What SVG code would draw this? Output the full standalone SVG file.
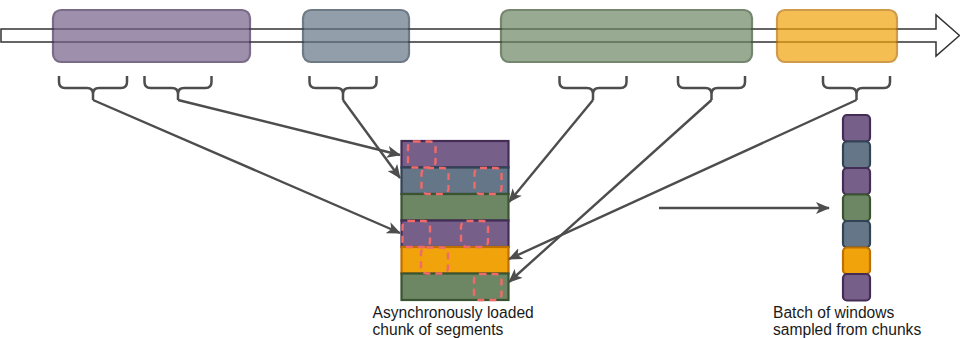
<svg xmlns="http://www.w3.org/2000/svg" width="960" height="338" viewBox="0 0 960 338">
  <style>
    .seg { opacity: 0.7; stroke-width: 2.2; }
    .brace { fill: none; stroke: #4d4d4d; stroke-width: 2.5; stroke-linejoin: round; }
    .conn { fill: none; stroke: #4d4d4d; stroke-width: 2.4; }
    .row { stroke-width: 2.2; }
    .win { fill: none; stroke: #f06a6a; stroke-width: 2.4; stroke-dasharray: 7 5; }
    .cell { stroke-width: 2.2; }
    .purple { fill: #76608a; stroke: #432d57; }
    .slate { fill: #647687; stroke: #314354; }
    .green { fill: #6d8764; stroke: #3a5431; }
    .orange { fill: #f0a30a; stroke: #bd7000; }
    .label { font-family: "Liberation Sans", Arial, sans-serif; font-size: 15.6px; fill: #1a1a1a; }
  </style>
  <defs>
    <marker id="arrow" viewBox="0 0 14 12" refX="13" refY="6" markerWidth="14" markerHeight="12" markerUnits="userSpaceOnUse" orient="auto">
      <path d="M0,0 L14,6 L0,12 L3.5,6 Z" fill="#4d4d4d"/>
    </marker>
  </defs>

  <!-- time axis -->
  <g id="timeline">
    <path d="M1,29 H936 V15 L959.5,35.5 L936,56 V42 H1 Z" fill="#ffffff" stroke="#333333" stroke-width="1.5" stroke-linejoin="miter"/>
  </g>

  <!-- recorded segments along the axis -->
  <g id="segment-1"><rect class="seg purple" x="53" y="10" width="197" height="52" rx="8"/></g>
  <g id="segment-2"><rect class="seg slate" x="303" y="10" width="106" height="52" rx="8"/></g>
  <g id="segment-3"><rect class="seg green" x="501" y="10" width="251" height="52" rx="8"/></g>
  <g id="segment-4"><rect class="seg orange" x="777" y="10" width="120" height="52" rx="8"/></g>

  <!-- braces marking sampled windows -->
  <g id="brace-1"><path class="brace" d="M59,76 V82 Q59,88 65,88 H87 Q93,88 93,94 V100 M93,94 Q93,88 99,88 H121 Q127,88 127,82 V76"/></g>
  <g id="brace-2"><path class="brace" d="M144.5,76 V82 Q144.5,88 150.5,88 H172 Q178,88 178,94 V100 M178,94 Q178,88 184,88 H205.5 Q211.5,88 211.5,82 V76"/></g>
  <g id="brace-3"><path class="brace" d="M309.5,76 V82 Q309.5,88 315.5,88 H337 Q343,88 343,94 V100 M343,94 Q343,88 349,88 H370.5 Q376.5,88 376.5,82 V76"/></g>
  <g id="brace-4"><path class="brace" d="M559.5,76 V82 Q559.5,88 565.5,88 H587 Q593,88 593,94 V100 M593,94 Q593,88 599,88 H620.5 Q626.5,88 626.5,82 V76"/></g>
  <g id="brace-5"><path class="brace" d="M678,76 V82 Q678,88 684,88 H705.5 Q711.5,88 711.5,94 V100 M711.5,94 Q711.5,88 717.5,88 H739 Q745,88 745,82 V76"/></g>
  <g id="brace-6"><path class="brace" d="M823,76 V82 Q823,88 829,88 H850.5 Q856.5,88 856.5,94 V100 M856.5,94 Q856.5,88 862.5,88 H884 Q890,88 890,82 V76"/></g>

  <!-- loaded chunk of segments -->
  <g id="chunk">
    <rect class="row purple" x="401.5" y="141" width="107" height="26.5"/>
    <rect class="row slate" x="401.5" y="167.5" width="107" height="26.5"/>
    <rect class="row green" x="401.5" y="194" width="107" height="26.5"/>
    <rect class="row purple" x="401.5" y="220.5" width="107" height="26.5"/>
    <rect class="row orange" x="401.5" y="247" width="107" height="26.5"/>
    <rect class="row green" x="401.5" y="273.5" width="107" height="26.5"/>
    <rect class="win" x="408" y="141.5" width="27.5" height="26" rx="5.5"/>
    <rect class="win" x="421.5" y="168" width="27" height="26" rx="5.5"/>
    <rect class="win" x="474.5" y="168" width="27" height="26" rx="5.5"/>
    <rect class="win" x="402.5" y="221" width="27.5" height="26" rx="5.5"/>
    <rect class="win" x="461" y="221" width="27" height="26" rx="5.5"/>
    <rect class="win" x="421" y="247.5" width="27" height="26" rx="5.5"/>
    <rect class="win" x="474" y="274" width="27.5" height="26" rx="5.5"/>
  </g>

  <!-- sampled batch -->
  <g id="batch">
    <rect class="cell purple" x="843" y="115" width="27" height="26.5" rx="4"/>
    <rect class="cell slate" x="843" y="141.5" width="27" height="26.5" rx="4"/>
    <rect class="cell purple" x="843" y="168" width="27" height="26.5" rx="4"/>
    <rect class="cell green" x="843" y="194.5" width="27" height="26.5" rx="4"/>
    <rect class="cell slate" x="843" y="221" width="27" height="26.5" rx="4"/>
    <rect class="cell orange" x="843" y="247.5" width="27" height="26.5" rx="4"/>
    <rect class="cell purple" x="843" y="274" width="27" height="26.5" rx="4"/>
  </g>

  <!-- connectors -->
  <g id="connectors">
    <line class="conn" x1="93" y1="100" x2="400" y2="233" marker-end="url(#arrow)"/>
    <line class="conn" x1="178" y1="100" x2="400" y2="155" marker-end="url(#arrow)"/>
    <line class="conn" x1="343" y1="100" x2="400" y2="178" marker-end="url(#arrow)"/>
    <line class="conn" x1="593" y1="100" x2="509" y2="202" marker-end="url(#arrow)"/>
    <line class="conn" x1="711.5" y1="100" x2="509" y2="282" marker-end="url(#arrow)"/>
    <line class="conn" x1="856.5" y1="100" x2="509" y2="259" marker-end="url(#arrow)"/>
    <line class="conn" x1="659" y1="208" x2="829" y2="208" marker-end="url(#arrow)"/>
  </g>

  <!-- captions -->
  <g id="chunk-label">
    <text class="label" x="372.5" y="317.5">Asynchronously loaded</text>
    <text class="label" x="372.5" y="334.5">chunk of segments</text>
  </g>
  <g id="batch-label">
    <text class="label" x="773" y="317.5">Batch of windows</text>
    <text class="label" x="773" y="334.5">sampled from chunks</text>
  </g>
</svg>
